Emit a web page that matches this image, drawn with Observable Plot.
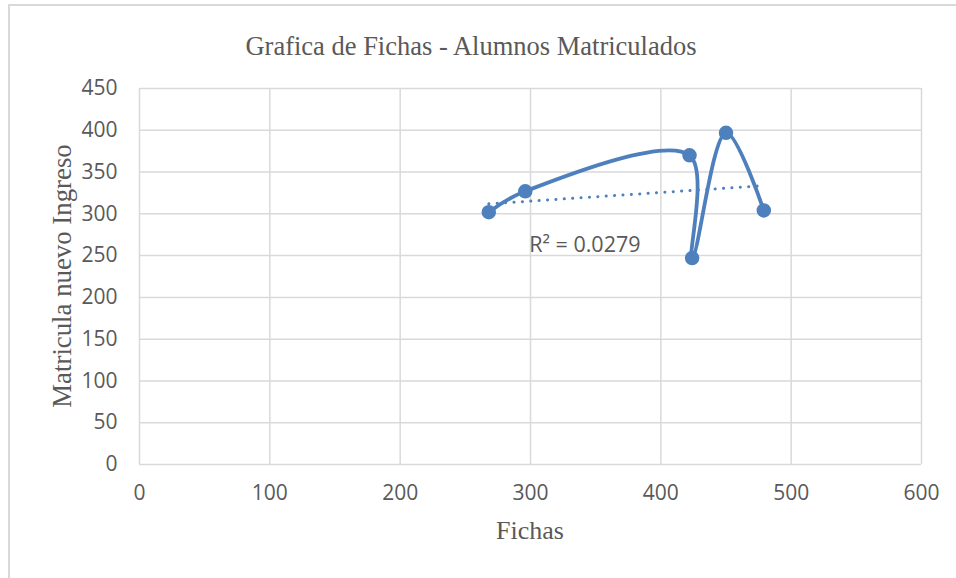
<!DOCTYPE html>
<html>
<head>
<meta charset="utf-8">
<script src="https://cdn.jsdelivr.net/npm/d3@7"></script>
<script src="https://cdn.jsdelivr.net/npm/@observablehq/plot@0.6"></script>
<style>
  body { margin: 0; background: #fff; }
  #wrap { position: relative; width: 956px; height: 578px; overflow: hidden; }
  #border { position: absolute; left: 8px; top: 4px; width: 1000px; height: 700px;
            border-top: 2px solid #d9d9d9; border-left: 2px solid #d9d9d9; }
  .serif { font-family: "Liberation Serif", "DejaVu Serif", serif; color: #595959; position: absolute; white-space: nowrap; }
  #title { left: 471px; top: 31px; transform: translateX(-50%); font-size: 26.5px; }
  #xtitle { left: 530px; top: 516px; transform: translateX(-50%); font-size: 26px; }
  #ytitle { left: 62px; top: 276px; transform: translate(-50%, -50%) rotate(-90deg); font-size: 26.8px; }
  #chart { position: absolute; left: 0; top: 0; }
</style>
</head>
<body>
<div id="wrap">
  <div id="border"></div>
  <div id="chart"></div>
  <div id="title" class="serif">Grafica de Fichas - Alumnos Matriculados</div>
  <div id="xtitle" class="serif">Fichas</div>
  <div id="ytitle" class="serif">Matricula nuevo Ingreso</div>
</div>
<script>
const fichas = [268, 296, 422, 424, 450, 479];
const matricula = [302, 327, 370, 247, 397, 304];
const xTicks = [0, 100, 200, 300, 400, 500, 600];
const yTicks = [0, 50, 100, 150, 200, 250, 300, 350, 400, 450];
const r2Label = "R² = 0.0279";

const data = fichas.map((f, i) => ({x: f, y: matricula[i]}));
const blue = "#4e80bd";
const grid = "#d9d9d9";
const txt = "#595959";

const plot = Plot.plot({
  width: 956,
  height: 578,
  marginLeft: 139,
  marginRight: 35,
  marginTop: 88,
  marginBottom: 114,
  style: {fontFamily: "'Open Sans', 'Liberation Sans', sans-serif", fontSize: "21px", color: txt, background: "transparent"},
  x: {domain: [0, 600], ticks: xTicks},
  y: {domain: [0, 450], ticks: yTicks},
  marks: [
    Plot.gridX(xTicks, {stroke: grid, strokeOpacity: 1, strokeWidth: 1.5}),
    Plot.gridY(yTicks, {stroke: grid, strokeOpacity: 1, strokeWidth: 1.5}),
    Plot.axisX(xTicks, {tickSize: 0, tickPadding: 21, label: null, fill: txt, fontSize: 21}),
    Plot.axisY(yTicks, {tickSize: 0, tickPadding: 22, label: null, fill: txt, fontSize: 21}),
    Plot.line(data, {x: "x", y: "y", stroke: blue, strokeWidth: 3.8, curve: "catmull-rom"}),
    Plot.dot(data, {x: "x", y: "y", r: 6.5, fill: blue, stroke: blue}),
    Plot.linearRegressionY(data, {x: "x", y: "y", ci: 0, stroke: blue, strokeWidth: 3, strokeDasharray: "0.1 8.3", strokeLinecap: "round"}),
    Plot.text([r2Label], {x: 299, y: 263, text: d => d, textAnchor: "start", fill: txt, fontSize: 21.5})
  ]
});
document.getElementById("chart").appendChild(plot);
</script>
</body>
</html>
